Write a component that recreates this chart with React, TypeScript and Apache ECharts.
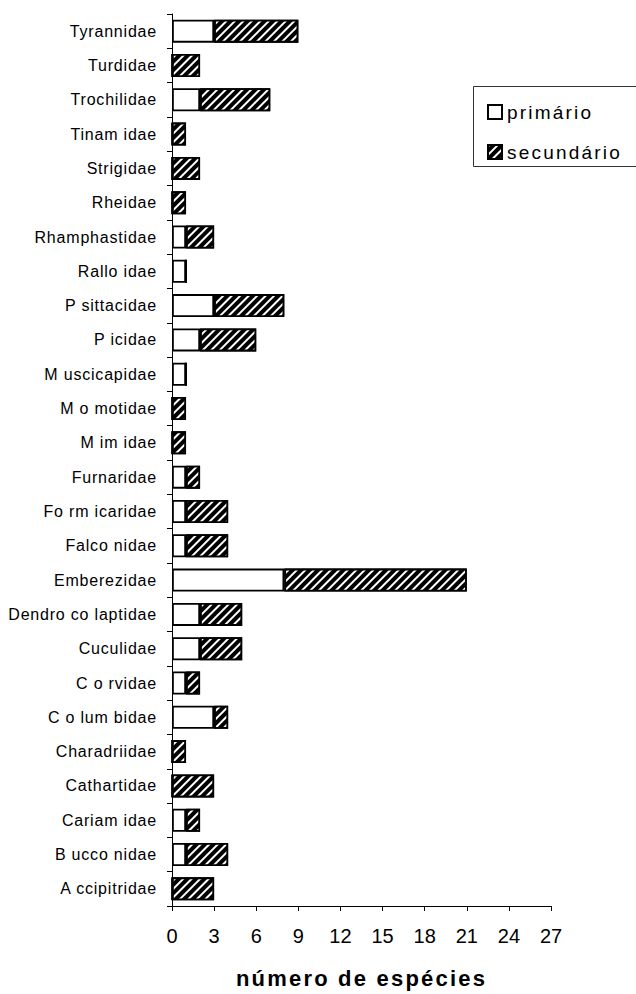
import React, { useEffect, useRef } from "react";
import * as echarts from "echarts";

const categories = [
  "A ccipitridae", "B ucco nidae", "Cariam idae", "Cathartidae", "Charadriidae",
  "C o lum bidae", "C o rvidae", "Cuculidae", "Dendro co laptidae", "Emberezidae",
  "Falco nidae", "Fo rm icaridae", "Furnaridae", "M im idae", "M o motidae",
  "M uscicapidae", "P icidae", "P sittacidae", "Rallo idae", "Rhamphastidae",
  "Rheidae", "Strigidae", "Tinam idae", "Trochilidae", "Turdidae", "Tyrannidae",
];
const primario = [0, 1, 1, 0, 0, 3, 1, 2, 2, 8, 1, 1, 1, 0, 0, 1, 2, 3, 1, 1, 0, 0, 0, 2, 0, 3];
const secundario = [3, 3, 1, 3, 1, 1, 1, 3, 3, 13, 3, 3, 1, 1, 1, 0, 4, 5, 0, 2, 1, 2, 1, 5, 2, 6];
const xMin = 0;
const xMax = 27;
const xInterval = 3;
const seriesNames = ["primário", "secundário"];
const axisTitle = "número de espécies";

const FONT = "Arial, 'Liberation Sans', sans-serif";

export default function App() {
  const ref = useRef<HTMLDivElement>(null);
  useEffect(() => {
    if (!ref.current) return;
    const chart = echarts.init(ref.current, undefined, { renderer: "svg" });
    const hatch = {
      symbol: "rect",
      symbolSize: 1,
      color: "#ffffff",
      dashArrayX: [1, 0],
      dashArrayY: [2, 3.5],
      rotation: -Math.PI / 4,
    };
    chart.setOption({
      animation: false,
      backgroundColor: "#ffffff",
      grid: { left: 172, right: 85, top: 14, bottom: 84, containLabel: false },
      legend: {
        orient: "vertical",
        left: 482,
        top: 96,
        itemWidth: 14,
        itemHeight: 14,
        itemGap: 18,
        icon: "rect",
        data: seriesNames,
        textStyle: {
          fontFamily: FONT,
          fontSize: 19,
          color: "#000",
          lineHeight: 22,
          padding: [0, 0, 0, 0],
        },
      },
      graphic: [
        {
          type: "rect",
          shape: { x: 473.5, y: 86.5, width: 200, height: 80 },
          style: { fill: "none", stroke: "#333", lineWidth: 1 },
          silent: true,
        },
      ],
      xAxis: {
        type: "value",
        min: xMin,
        max: xMax,
        interval: xInterval,
        splitLine: { show: false },
        axisLine: { show: true, lineStyle: { color: "#000", width: 1 } },
        axisTick: { show: true, length: 5, lineStyle: { color: "#000" } },
        axisLabel: { fontFamily: FONT, fontSize: 20, color: "#000", margin: 20 },
        name: axisTitle,
        nameLocation: "middle",
        nameGap: 61,
        nameTextStyle: { fontFamily: FONT, fontSize: 22, fontWeight: "bold", color: "#000" },
      },
      yAxis: {
        type: "category",
        data: categories,
        axisLine: { show: true, lineStyle: { color: "#000", width: 1 } },
        axisTick: { show: true, length: 5, alignWithLabel: false, lineStyle: { color: "#000" } },
        axisLabel: { fontFamily: FONT, fontSize: 16, color: "#000", margin: 15, interval: 0 },
        splitLine: { show: false },
      },
      series: [
        {
          name: seriesNames[0],
          type: "bar",
          stack: "total",
          data: primario,
          barWidth: 23,
          itemStyle: { color: "#ffffff", borderColor: "#000", borderWidth: 1.8 },
        },
        {
          name: seriesNames[1],
          type: "bar",
          stack: "total",
          data: secundario,
          barWidth: 23,
          itemStyle: { color: "#000000", borderColor: "#000", borderWidth: 1.8, decal: hatch },
        },
      ],
    });
    return () => chart.dispose();
  }, []);
  return (
    <>
      <style>{`
        #chartbox text[style*="16px"] { letter-spacing: 0.8px; }
        #chartbox text[style*="19px"] { letter-spacing: 2.2px; }
        #chartbox text[style*="22px"] { letter-spacing: 2.2px; }
      `}</style>
      <div
        id="chartbox"
        ref={ref}
        style={{ position: "absolute", left: 0, top: 0, width: 636, height: 994 }}
      />
    </>
  );
}
